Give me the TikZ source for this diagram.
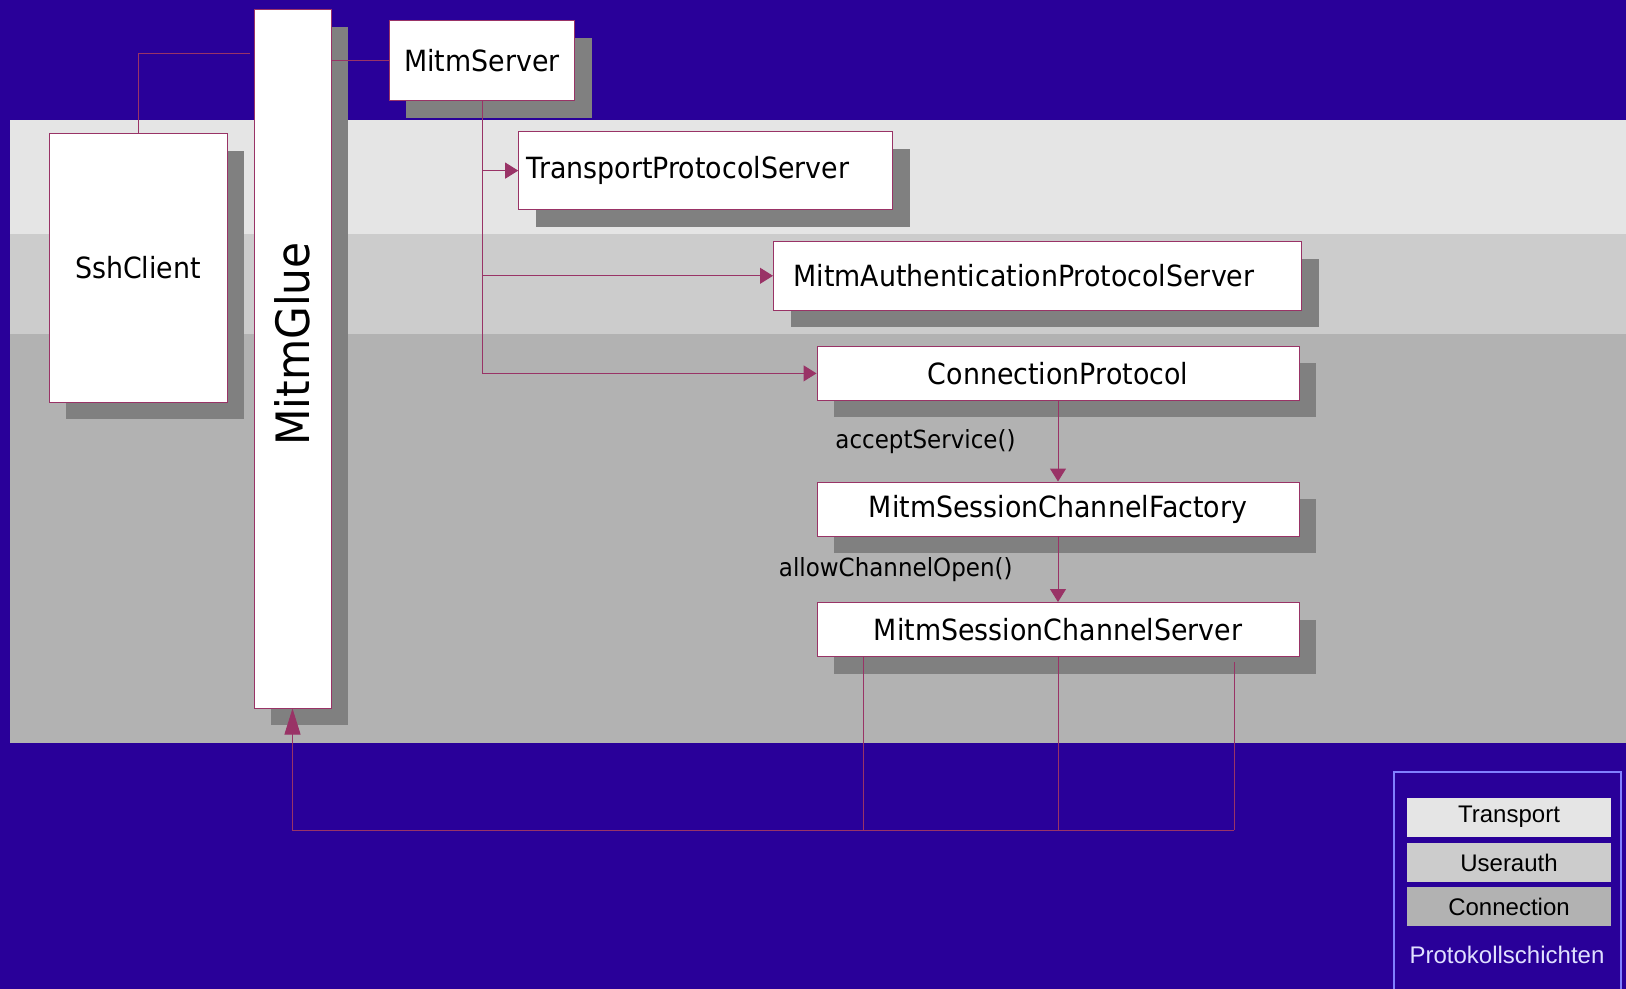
\documentclass[tikz,border=0pt]{standalone}
\usepackage{fontspec}
\setmainfont{DejaVu Sans}[FakeStretch=0.92]
\newfontfamily\legendfont{Liberation Sans}
\usetikzlibrary{shadows, arrows.meta}

\definecolor{bgblue}{RGB}{41,0,153}
\definecolor{transportgray}{gray}{0.9}
\definecolor{userauthgray}{gray}{0.8}
\definecolor{conngray}{gray}{0.7}
\definecolor{shadowgray}{gray}{0.5}
\definecolor{linkpurple}{RGB}{153,51,102}
\definecolor{legendline}{RGB}{128,128,255}
\definecolor{legendtext}{RGB}{224,224,255}

\tikzset{
    cls/.style={draw=linkpurple, line width=0.5pt, fill=white, inner sep=0pt,
        font=\fontsize{14.6}{17}\selectfont,
        drop shadow={shadow xshift=8.5pt, shadow yshift=-8.5pt, fill=shadowgray, opacity=1}},
    wire/.style={draw=linkpurple, line width=0.5pt},
    call/.style={wire, -{Triangle[length=6.5pt, width=8pt]}},
    calltext/.style={inner sep=0pt, font=\fontsize{12.5}{15}\selectfont},
    layer/.style={minimum width=102pt, minimum height=19.5pt, inner sep=0pt,
        font=\legendfont\fontsize{12}{14}\selectfont}
}

\begin{document}
\begin{tikzpicture}[x=0.5pt, y=-0.5pt]
    \useasboundingbox (0,0) rectangle (1626,989);
    % background and protocol layers
    \fill[bgblue] (0,0) rectangle (1626,989);
    \fill[transportgray] (10.4,120.3) rectangle (1626,234.4);
    \fill[userauthgray] (10.4,234.4) rectangle (1626,334);
    \fill[conngray] (10.4,334) rectangle (1626,742.5);

    % classes
    \node[cls, minimum width=89pt, minimum height=134pt] (client) at (138,268) {SshClient};
    \node[cls, minimum width=38.5pt, minimum height=349pt] (glue) at (292.5,359) {};
    \node[rotate=90, inner sep=0pt, font=\fontsize{23}{27}\selectfont] (gluename) at (292.5,344) {MitmGlue};
    \node[cls, minimum width=92.75pt, minimum height=40pt] (server) at (482,60.7) {MitmServer};
    \node[cls, inner xsep=4pt, text width=179pt, align=left, minimum height=39pt] (transport) at (705.7,170.6) {TransportProtocolServer};
    \node[cls, inner xsep=10pt, text width=244pt, align=left, minimum height=34.25pt] (auth) at (1037.5,275.8) {MitmAuthenticationProtocolServer};
    \node[cls, minimum width=241pt, minimum height=27pt] (conn) at (1058,373.4) {ConnectionProtocol};
    \node[cls, minimum width=241pt, minimum height=27pt] (factory) at (1058,509) {MitmSessionChannelFactory};
    \node[cls, minimum width=241pt, minimum height=27pt] (channel) at (1058,629.5) {MitmSessionChannelServer};

    % connections
    \coordinate (gluetap) at (250,54);
    \draw[wire] (client.north) |- (gluetap);
    \draw[wire] (server.west) -- (server.west -| glue.east);
    \draw[call] (server.south) |- (transport.west);
    \draw[call] (server.south) |- (auth.west);
    \draw[call] (server.south) |- (conn.west);
    \draw[call] (conn.south) -- (factory.north)
        node[calltext, midway, left=21pt] {acceptService()};
    \draw[call] (factory.south) -- (channel.north)
        node[calltext, midway, left=22.5pt] {allowChannelOpen()};

    \coordinate (busleft) at (863,830);
    \coordinate (busmid) at (1058,830);
    \coordinate (righttap) at (1234,662);
    \coordinate (busright) at (1234,830);
    \draw[wire] (channel.south -| busleft) -- (busleft);
    \draw[wire] (channel.south) -- (busmid);
    \draw[wire] (righttap) -- (busright);
    \draw[wire, -{Triangle[length=13pt, width=8pt]}] (busright) -| (glue.south);

    % legend
    \draw[legendline, line width=0.6pt] (1394,995) |- (1621,772) -- (1621,995);
    \node[layer, fill=transportgray] (transportkey) at (1509,817) {Transport};
    \node[layer, fill=userauthgray] (userauthkey) at (1509,862.5) {Userauth};
    \node[layer, fill=conngray] (connkey) at (1509,906.5) {Connection};
    \node[inner sep=0pt, text=legendtext, font=\legendfont\fontsize{12}{14}\selectfont] (keytitle) at (1507,955) {Protokollschichten};
\end{tikzpicture}
\end{document}
